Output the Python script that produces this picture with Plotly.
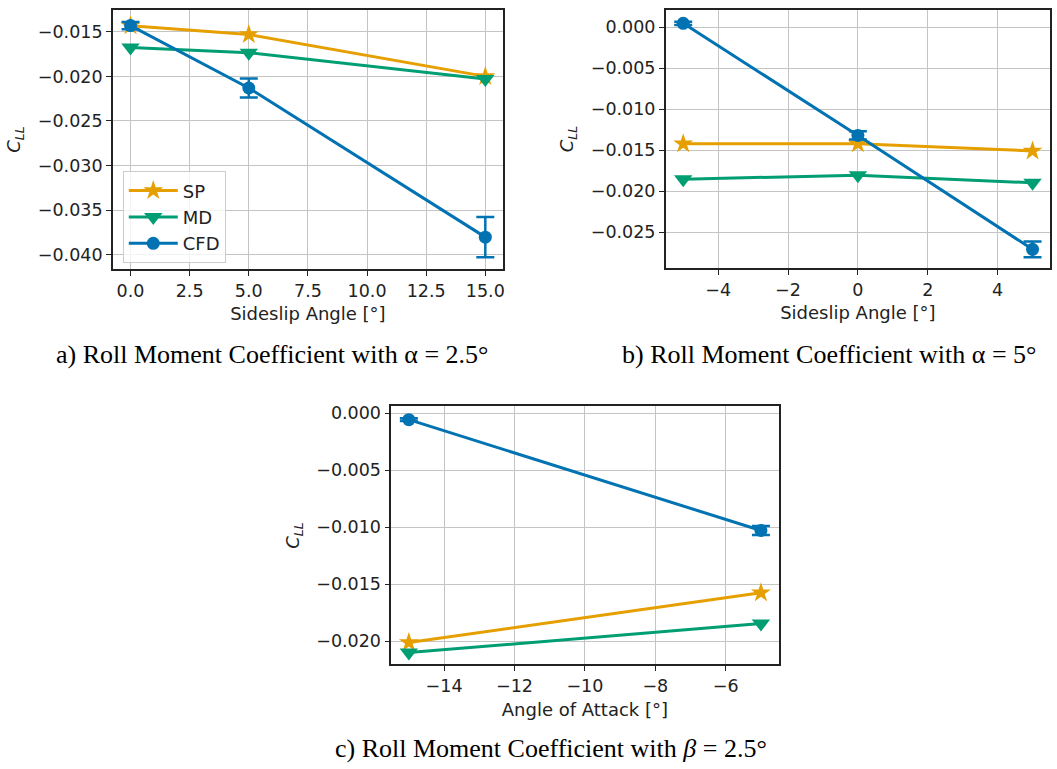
import numpy as np
import plotly.graph_objects as go

# ---- data -------------------------------------------------------------
# a) sideslip sweep at alpha = 2.5 deg
beta_a = [0.0, 5.0, 15.0]
sp_a = [-0.01433, -0.01530, -0.02000]
md_a = [-0.01676, -0.01735, -0.02030]
cfd_a = [-0.01430, -0.02130, -0.03803]
cfd_err_a = [0.00040, 0.00107, 0.00225]

# b) sideslip sweep at alpha = 5 deg
beta_b = [-5.0, 0.0, 5.0]
sp_b = [-0.01420, -0.01420, -0.01509]
md_b = [-0.01853, -0.01805, -0.01897]
cfd_b = [0.00049, -0.01319, -0.02710]
cfd_err_b = [0.00020, 0.00050, 0.00095]

# c) angle-of-attack sweep at beta = 2.5 deg
alpha_c = [-15.0, -5.0]
sp_c = [-0.02012, -0.01576]
md_c = [-0.02100, -0.01846]
cfd_c = [-0.00058, -0.01030]
cfd_err_c = [0.00012, 0.00040]

series_names = ["SP", "MD", "CFD"]
colors = {"SP": "#e69f00", "MD": "#029e73", "CFD": "#0173b2"}
symbols = {"SP": "star", "MD": "triangle-down", "CFD": "circle"}
msize = {"SP": 15, "MD": 16, "CFD": 13}

W, H = 1057, 769


def xdom(x0, x1):
    return [x0 / W, x1 / W]


def ydom(y0, y1):
    return [1 - y1 / H, 1 - y0 / H]


def ticks(rng, step, fmt):
    """Tick positions inside rng and their labels with a true minus sign."""
    start = np.ceil(rng[0] / step - 1e-9) * step
    vals = np.arange(start, rng[1] + 1e-12, step)
    vals = [0.0 if abs(v) < 1e-12 else float(v) for v in vals]
    text = [format(v, fmt).replace("-", "\u2212") for v in vals]
    return vals, text


fig = go.Figure()

panels = [
    # suffix, x, (sp, md, cfd, err), x-domain px, y-domain px, x range, y range, x step, x fmt, x title
    ("", beta_a, (sp_a, md_a, cfd_a, cfd_err_a), (113, 504), (7, 267),
     [-0.75, 15.75], [-0.04160, -0.01255], 2.5, ".1f", "Sideslip Angle [°]"),
    ("2", beta_b, (sp_b, md_b, cfd_b, cfd_err_b), (667, 1052), (7, 266),
     [-5.5, 5.5], [-0.02937, 0.00212], 2, ".0f", "Sideslip Angle [°]"),
    ("3", alpha_c, (sp_c, md_c, cfd_c, cfd_err_c), (392, 780), (405, 664),
     [-15.5, -4.5], [-0.02204, 0.00058], 2, ".0f", "Angle of Attack [°]"),
]

tick_font = dict(family="DejaVu Sans", size=17.5, color="#222222")
title_font = dict(family="DejaVu Sans", size=18, color="#222222")

for i, (suf, xs, (sp, md, cfd, err), xd, yd, xr, yr, dt, fmt, xt) in enumerate(panels):
    xa, ya = "x" + suf, "y" + suf
    vals = {"SP": sp, "MD": md, "CFD": cfd}
    for name in series_names:
        tr = dict(
            x=xs, y=vals[name], mode="lines+markers", name=name,
            xaxis=xa, yaxis=ya, legendgroup=name, showlegend=(i == 0),
            line=dict(color=colors[name], width=3),
            marker=dict(symbol=symbols[name], size=msize[name],
                        color=colors[name], line=dict(width=0)),
        )
        if name == "CFD":
            tr["error_y"] = dict(type="data", array=err, visible=True,
                                 color=colors[name], thickness=2.5, width=9)
        fig.add_trace(go.Scatter(**tr))

    axis_common = dict(
        showline=True, mirror=True, linecolor="#222222", linewidth=1.5,
        ticks="outside", ticklen=5, tickwidth=1.3, tickcolor="#222222",
        showgrid=True, gridcolor="#c4c4c4", gridwidth=1.2, zeroline=False,
        tickfont=tick_font,
    )
    xtv, xtt = ticks(xr, dt, fmt)
    ytv, ytt = ticks(yr, 0.005, ".3f")
    fig.layout["xaxis" + suf] = dict(
        axis_common, domain=xdom(*xd), range=xr, anchor=ya,
        tickmode="array", tickvals=xtv, ticktext=xtt,
        title=dict(text=xt, font=title_font, standoff=8),
    )
    fig.layout["yaxis" + suf] = dict(
        axis_common, domain=ydom(*yd), range=yr, anchor=xa,
        tickmode="array", tickvals=ytv, ticktext=ytt,
        title=dict(text="<i>C</i><sub><i>LL</i></sub>", font=title_font, standoff=12),
    )

cap_font = dict(family="Liberation Serif", size=26, color="#000000")
captions = [
    ("a) Roll Moment Coefficient with α = 2.5°", 273, 353),
    ("b) Roll Moment Coefficient with α = 5°", 831, 353),
    ("c) Roll Moment Coefficient with <i>β</i> = 2.5°", 552, 748),
]
for text, cx, cy in captions:
    fig.add_annotation(text=text, x=cx / W, y=1 - cy / H, xref="paper", yref="paper",
                       xanchor="center", yanchor="middle", showarrow=False, font=cap_font)

fig.update_layout(
    width=W, height=H, margin=dict(l=0, r=0, t=0, b=0),
    paper_bgcolor="white", plot_bgcolor="white",
    legend=dict(x=123 / W, y=1 - 169 / H, xanchor="left", yanchor="top",
                bgcolor="rgba(255,255,255,0.8)", bordercolor="#cccccc", borderwidth=1,
                font=dict(family="DejaVu Sans", size=18, color="#222222"),
                tracegroupgap=0, itemwidth=49),
)

fig.write_html("out.html")
